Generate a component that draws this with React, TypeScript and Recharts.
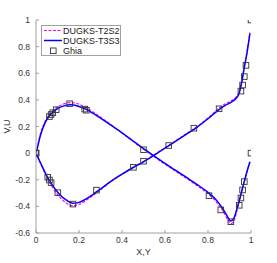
import React from 'react';
import { ComposedChart, Line, Scatter, XAxis, YAxis, Legend } from 'recharts';

// V along horizontal centerline (X)
const vX = [0, 0.005, 0.02, 0.04, 0.06, 0.08, 0.1, 0.13, 0.16, 0.19, 0.22, 0.25, 0.3, 0.35, 0.4, 0.45, 0.5, 0.55, 0.6, 0.65, 0.7, 0.75, 0.8, 0.84, 0.87, 0.89, 0.905, 0.92, 0.935, 0.95, 0.965, 0.98, 0.995];
const vT3S3 = [0, 0.03, 0.13, 0.22, 0.275, 0.31, 0.335, 0.355, 0.363, 0.356, 0.338, 0.313, 0.263, 0.208, 0.152, 0.093, 0.034, -0.022, -0.077, -0.13, -0.183, -0.236, -0.295, -0.355, -0.42, -0.475, -0.51, -0.49, -0.415, -0.33, -0.235, -0.145, -0.065];
const vT2S2 = [0, 0.035, 0.14, 0.23, 0.285, 0.32, 0.347, 0.37, 0.38, 0.373, 0.352, 0.325, 0.27, 0.212, 0.152, 0.09, 0.03, -0.027, -0.083, -0.137, -0.19, -0.245, -0.305, -0.37, -0.435, -0.495, -0.53, -0.51, -0.43, -0.335, -0.24, -0.15, -0.07];

// U along vertical centerline (Y)
const uY = [0, 0.02, 0.05, 0.08, 0.11, 0.14, 0.17, 0.2, 0.25, 0.3, 0.35, 0.4, 0.45, 0.5, 0.55, 0.6, 0.65, 0.7, 0.75, 0.8, 0.85, 0.88, 0.91, 0.93, 0.945, 0.96, 0.97, 0.98, 0.995];
const uT3S3 = [0, -0.07, -0.17, -0.25, -0.31, -0.352, -0.377, -0.37, -0.327, -0.27, -0.21, -0.158, -0.11, -0.065, -0.015, 0.037, 0.09, 0.143, 0.196, 0.258, 0.325, 0.358, 0.385, 0.41, 0.45, 0.56, 0.655, 0.74, 0.9];
const uT2S2 = [0, -0.072, -0.178, -0.265, -0.33, -0.375, -0.395, -0.385, -0.335, -0.275, -0.213, -0.16, -0.11, -0.063, -0.012, 0.04, 0.093, 0.147, 0.2, 0.265, 0.335, 0.37, 0.395, 0.42, 0.46, 0.565, 0.66, 0.75, 0.905];

// Ghia reference
const ghiaX = [0, 0.0625, 0.0703, 0.0781, 0.0938, 0.1563, 0.2266, 0.2344, 0.5, 0.8047, 0.8594, 0.9063, 0.9453, 0.9531, 0.9609, 0.9688, 1];
const ghiaV = [0, 0.27485, 0.29012, 0.30353, 0.32627, 0.37095, 0.33075, 0.32235, 0.02526, -0.31966, -0.42665, -0.5155, -0.39188, -0.33714, -0.27669, -0.21388, 0];
const ghiaY = [0, 0.0547, 0.0625, 0.0703, 0.1016, 0.1719, 0.2813, 0.4531, 0.5, 0.6172, 0.7344, 0.8516, 0.9531, 0.9609, 0.9688, 0.9766, 1];
const ghiaU = [0, -0.18109, -0.20196, -0.2222, -0.2973, -0.38289, -0.27805, -0.10648, -0.0608, 0.05702, 0.18719, 0.33304, 0.46604, 0.51117, 0.57492, 0.65928, 1];

const xTicks = [0, 0.2, 0.4, 0.6, 0.8, 1];
const yTicks = [-0.6, -0.4, -0.2, 0, 0.2, 0.4, 0.6, 0.8, 1];

const pts = (xs: number[], ys: number[]) => xs.map((x, i) => ({ x, y: ys[i] }));
const vBlue = pts(vX, vT3S3);
const vMag = pts(vX, vT2S2);
const uBlue = pts(uY, uT3S3);
const uMag = pts(uY, uT2S2);
const ghiaData = [...pts(ghiaX, ghiaV), ...pts(ghiaY, ghiaU)];

const FONT = '"Liberation Sans", Arial, Helvetica, sans-serif';
const AXIS = '#a0a0a0';
const TXT = '#333333';
const fmt = (v: number) => String(Math.round(v * 10) / 10);

const Square = (props: any) => {
  const { cx, cy } = props;
  if (cx == null || cy == null) return null;
  return <rect x={cx - 2.8} y={cy - 2.8} width={5.6} height={5.6} fill="none" stroke="#333" strokeWidth={0.9} />;
};

const LegendBox = () => (
  <svg width={80} height={31} style={{ display: 'block', fontFamily: FONT }}>
    <rect x={0.5} y={0.5} width={79} height={30} fill="#fff" stroke="#a0a0a0" strokeWidth={1} />
    <line x1={3} x2={21} y1={5.5} y2={5.5} stroke="#ff00ff" strokeWidth={1.2} strokeDasharray="3 1.5" />
    <text x={22} y={5.5} dy="0.35em" fontSize={9} fill="#222">DUGKS-T2S2</text>
    <line x1={3} x2={21} y1={15.5} y2={15.5} stroke="#0000ff" strokeWidth={1.5} />
    <text x={22} y={15.5} dy="0.35em" fontSize={9} fill="#222">DUGKS-T3S3</text>
    <rect x={9.5} y={23} width={5.6} height={5.6} fill="none" stroke="#333" strokeWidth={0.9} />
    <text x={22} y={25.8} dy="0.35em" fontSize={9} fill="#222">Ghia</text>
  </svg>
);

export default function App() {
  return (
    <div style={{ position: 'absolute', left: 0, top: 0, background: '#fff' }}>
      <ComposedChart width={277} height={263} margin={{ top: 20, right: 26, bottom: 0, left: 0 }}>
        <XAxis
          dataKey="x"
          type="number"
          domain={[0, 1]}
          ticks={xTicks}
          allowDataOverflow
          height={30}
          tickSize={-3}
          tickMargin={7}
          stroke={AXIS}
          tick={{ fill: TXT, fontSize: 8.5, fontFamily: FONT }}
          tickFormatter={fmt}
          label={{ value: 'X,Y', position: 'insideBottom', offset: 8, fill: TXT, fontSize: 9, fontFamily: FONT }}
        />
        <XAxis
          xAxisId="top"
          dataKey="x"
          type="number"
          orientation="top"
          domain={[0, 1]}
          ticks={xTicks}
          height={0}
          mirror
          tickSize={3}
          stroke={AXIS}
          tickFormatter={() => ''}
        />
        <YAxis
          dataKey="y"
          type="number"
          domain={[-0.6, 1]}
          ticks={yTicks}
          allowDataOverflow
          width={36}
          tickSize={-3}
          tickMargin={9}
          stroke={AXIS}
          tick={{ fill: TXT, fontSize: 8.5, fontFamily: FONT }}
          tickFormatter={fmt}
          label={{ value: 'V,U', angle: -90, position: 'insideLeft', offset: 7, fill: TXT, fontSize: 9, fontFamily: FONT, style: { textAnchor: 'middle' } }}
        />
        <YAxis
          yAxisId="right"
          dataKey="y"
          type="number"
          orientation="right"
          domain={[-0.6, 1]}
          ticks={yTicks}
          width={0}
          mirror
          tickSize={3}
          stroke={AXIS}
          tickFormatter={() => ''}
        />
        <Line data={vMag} dataKey="y" type="monotone" stroke="#ff00ff" strokeWidth={1.2} strokeDasharray="3 1.5" dot={false} isAnimationActive={false} />
        <Line data={uMag} dataKey="y" type="monotone" stroke="#ff00ff" strokeWidth={1.2} strokeDasharray="3 1.5" dot={false} isAnimationActive={false} />
        <Line data={vBlue} dataKey="y" type="monotone" stroke="#0000ff" strokeWidth={1.5} dot={false} isAnimationActive={false} />
        <Line data={uBlue} dataKey="y" type="monotone" stroke="#0000ff" strokeWidth={1.5} dot={false} isAnimationActive={false} />
        <Scatter data={ghiaData} dataKey="y" shape={<Square />} isAnimationActive={false} />
        <Legend
          layout="horizontal"
          verticalAlign="middle"
          align="center"
          wrapperStyle={{ left: 41, top: 25, width: 80, height: 31 }}
          content={() => <LegendBox />}
        />
      </ComposedChart>
    </div>
  );
}
